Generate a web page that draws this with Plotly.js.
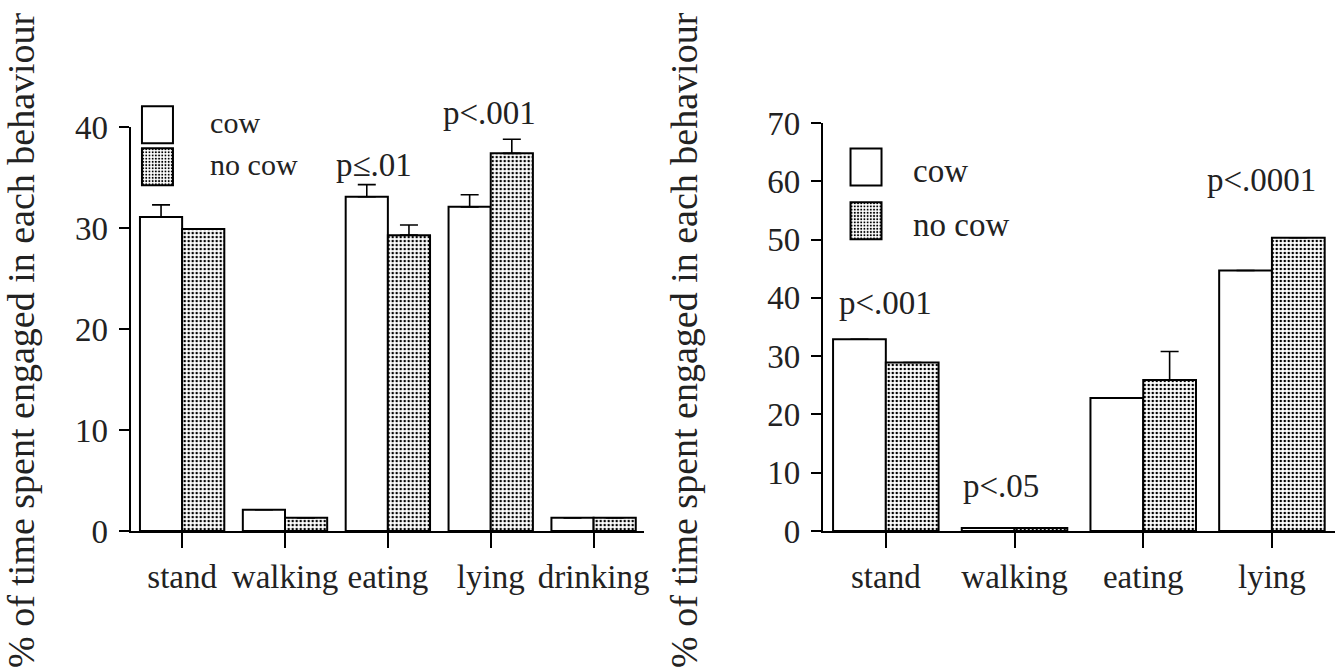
<!DOCTYPE html>
<html>
<head>
<meta charset="utf-8">
<script src="https://cdn.plot.ly/plotly-3.0.1.min.js"></script>
<style>
  html, body { margin: 0; padding: 0; background: #ffffff; }
  #chart { width: 1335px; height: 667px; }
</style>
</head>
<body>
<div id="chart"></div>
<script>
// ---- data ----
const leftCategories = ['stand', 'walking', 'eating', 'lying', 'drinking'];
const leftCow        = [31.1, 2.1, 33.1, 32.1, 1.3];
const leftNoCow      = [29.9, 1.3, 29.3, 37.4, 1.3];
const leftCowErr     = [1.2, null, 1.2, 1.2, null];
const leftNoCowErr   = [null, null, 1.0, 1.4, null];

const rightCategories = ['stand', 'walking', 'eating', 'lying'];
const rightCow        = [32.9, 0.5, 22.8, 44.7];
const rightNoCow      = [28.9, 0.5, 25.9, 50.3];
const rightCowErr     = [null, null, null, null];
const rightNoCowErr   = [null, null, 4.9, null];

const seriesNames = ['cow', 'no cow'];
const yTitle = '% of time spent engaged in each behaviour';

const leftYTicks  = [0, 10, 20, 30, 40];
const rightYTicks = [0, 10, 20, 30, 40, 50, 60, 70];

// ---- styling ----
const FONT = 'Liberation Serif';
const INK = '#222222';
const dotPattern = { shape: '.', fgcolor: '#000000', bgcolor: '#ffffff', size: 4, solidity: 0.32, fillmode: 'replace' };

function errSpec(arr) {
  return { type: 'data', array: arr, arrayminus: arr.map(() => 0), symmetric: false,
           visible: true, color: '#000000', thickness: 1.6, width: 9 };
}

function barTrace(cats, vals, err, name, xa, ya, legend, patterned, group) {
  return {
    type: 'bar', x: cats, y: vals, name: name,
    xaxis: xa, yaxis: ya, legend: legend, legendgroup: group,
    marker: {
      color: '#ffffff',
      line: { color: '#000000', width: 2 },
      pattern: patterned ? dotPattern : { shape: '' }
    },
    error_y: errSpec(err),
    hoverinfo: 'x+y+name'
  };
}

const data = [
  barTrace(leftCategories,  leftCow,    leftCowErr,    seriesNames[0], 'x',  'y',  'legend',  false, 'Lcow'),
  barTrace(leftCategories,  leftNoCow,  leftNoCowErr,  seriesNames[1], 'x',  'y',  'legend',  true,  'Lnocow'),
  barTrace(rightCategories, rightCow,   rightCowErr,   seriesNames[0], 'x2', 'y2', 'legend2', false, 'Rcow'),
  barTrace(rightCategories, rightNoCow, rightNoCowErr, seriesNames[1], 'x2', 'y2', 'legend2', true,  'Rnocow')
];

const tickFont = { family: FONT, size: 33, color: INK };

function xAxis(domain, range, anchor) {
  return {
    domain: domain, range: range, anchor: anchor, type: 'category',
    showline: true, linecolor: '#000000', linewidth: 2,
    ticks: 'outside', ticklen: 15, tickwidth: 1.5, tickcolor: '#000000',
    tickfont: tickFont, showgrid: false, zeroline: false, fixedrange: true
  };
}
function yAxis(domain, range, tickvals, anchor) {
  return {
    domain: domain, range: range, anchor: anchor,
    tickmode: 'array', tickvals: tickvals,
    showline: true, linecolor: '#000000', linewidth: 2,
    ticks: 'outside', ticklen: 10, tickwidth: 1.5, tickcolor: '#000000',
    ticklabelstandoff: 4,
    tickfont: tickFont, showgrid: false, zeroline: false, fixedrange: true
  };
}

const annFont = { family: FONT, size: 33, color: INK };
function note(text, x, y, xr, yr) {
  return { text: text, x: x, y: y, xref: xr, yref: yr, showarrow: false,
           xanchor: 'center', yanchor: 'middle', font: annFont };
}
// rotated y-axis titles (drawn as annotations so they can sit lower than the plot centre, as in the reference)
function yTitleNote(x) {
  return { text: yTitle, x: x, y: 0.468, xref: 'paper', yref: 'paper', textangle: -90,
           showarrow: false, xanchor: 'center', yanchor: 'middle',
           font: { family: FONT, size: 38, color: INK } };
}

const layout = {
  width: 1335, height: 667,
  margin: { l: 0, r: 0, t: 123, b: 136, pad: 0 },
  paper_bgcolor: '#ffffff', plot_bgcolor: '#ffffff',
  barmode: 'group', bargap: 0.18, bargroupgap: 0,
  font: { family: FONT, color: INK },
  xaxis:  xAxis([0.0979, 0.4824], [-0.5, 4.49], 'y'),
  yaxis:  yAxis([0, 0.990], [0, 40], leftYTicks, 'x'),
  xaxis2: xAxis([0.6163, 1.0], [-0.49, 3.49], 'y2'),
  yaxis2: yAxis([0, 1], [0, 70], rightYTicks, 'x2'),
  legend: {
    x: 0.0787, y: 1.067, xanchor: 'left', yanchor: 'top',
    bgcolor: 'rgba(0,0,0,0)', borderwidth: 0, itemwidth: 95,
    font: { family: FONT, size: 30, color: INK }, traceorder: 'normal',
    itemclick: false, itemdoubleclick: false
  },
  legend2: {
    x: 0.6135, y: 0.956, xanchor: 'left', yanchor: 'top',
    bgcolor: 'rgba(0,0,0,0)', borderwidth: 0, itemwidth: 84,
    font: { family: FONT, size: 33, color: INK }, traceorder: 'grouped', tracegroupgap: 8,
    itemclick: false, itemdoubleclick: false
  },
  annotations: [
    yTitleNote(0.0157),
    yTitleNote(0.5123),
    note('p\u2264.01', 1.87, 36.2, 'x', 'y'),
    note('p<.001', 2.99, 1.0245, 'x', 'paper'),
    note('p<.001', 0.0, 39.1, 'x2', 'y2'),
    note('p<.05', 0.895, 7.8, 'x2', 'y2'),
    note('p<.0001', 2.92, 60.3, 'x2', 'y2')
  ],
  showlegend: true
};

const gd = document.getElementById('chart');

// Legend keys in the reference are large boxes; enlarge Plotly's key rectangles
// and centre them where the reference draws them (left key column, right key column).
const KEY_BOX = 'M15.5,18.5H-15.5V-18.5H15.5Z';
const KEY_POS = { left: { x: 157.5, dy: 3 }, right: { x: 866, dy: -2 } };
function enlargeLegendKeys() {
  gd.querySelectorAll('.scrollbox').forEach(el => el.removeAttribute('clip-path'));
  const origin = gd.getBoundingClientRect().left;
  gd.querySelectorAll('.legendpoints path').forEach(p => {
    p.removeAttribute('transform');
    p.setAttribute('d', KEY_BOX);
    const r = p.getBoundingClientRect();
    const cx = (r.left + r.right) / 2 - origin;
    const pos = cx < 667 ? KEY_POS.left : KEY_POS.right;
    p.setAttribute('transform', 'translate(' + (pos.x - cx).toFixed(1) + ',' + pos.dy + ')');
  });
}

Plotly.newPlot(gd, data, layout, { displayModeBar: false }).then(() => {
  enlargeLegendKeys();
  gd.on('plotly_afterplot', enlargeLegendKeys);
});
</script>
</body>
</html>
